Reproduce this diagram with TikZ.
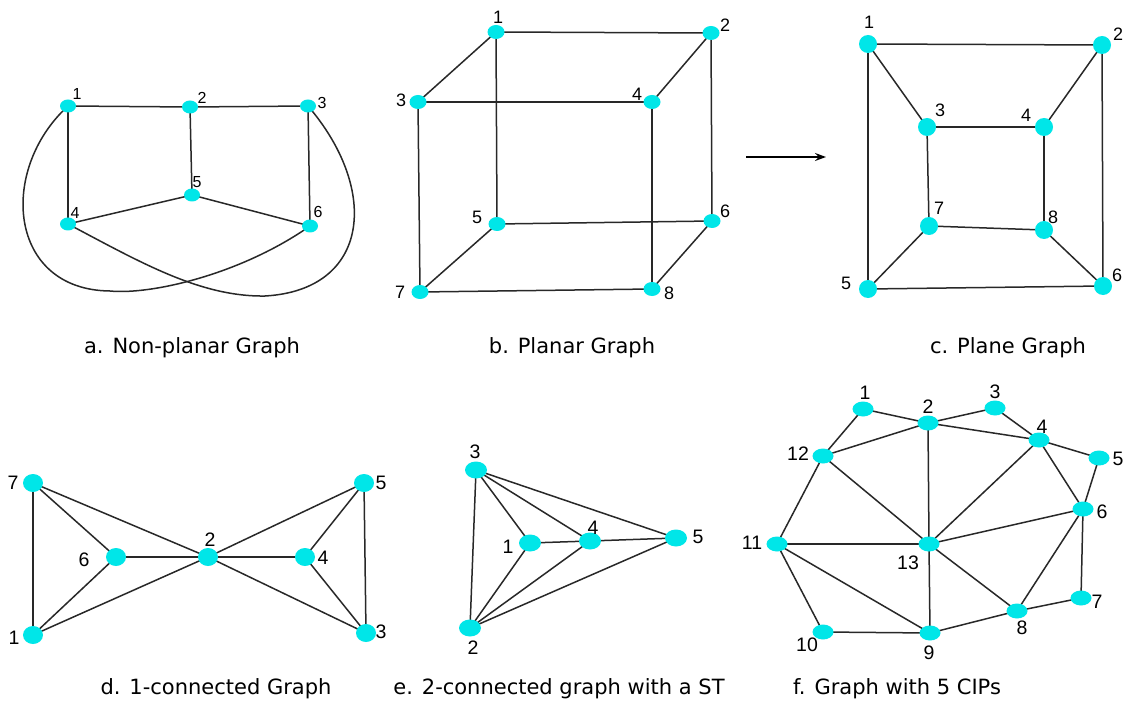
\documentclass[tikz,border=0pt]{standalone}
\usepackage{fontspec}
\setmainfont{Liberation Sans}
\newfontfamily\capfont{DejaVu Sans}
\usetikzlibrary{shapes.geometric,backgrounds,arrows.meta}
\definecolor{nodecyan}{RGB}{0,230,232}
\definecolor{edgegray}{RGB}{40,40,40}
\tikzset{
  vtx/.style={ellipse, fill=nodecyan, inner sep=0pt},
  va/.style={vtx, minimum width=16pt, minimum height=13pt},
  vb/.style={vtx, minimum width=17pt, minimum height=14pt},
  vc/.style={vtx, minimum width=18pt, minimum height=18pt},
  vd/.style={vtx, minimum width=20pt, minimum height=18pt},
  ve/.style={vtx, minimum width=22pt, minimum height=17pt},
  vf/.style={vtx, minimum width=21pt, minimum height=15pt},
  laba/.style={font=\fontsize{16}{16}\selectfont, inner sep=0pt},
  lab/.style={font=\fontsize{18}{18}\selectfont, inner sep=0pt},
  labf/.style={font=\fontsize{19.5}{19.5}\selectfont, inner sep=0pt},
  captxt/.style={font=\capfont\fontsize{21}{21}\selectfont, inner sep=0pt},
  edge/.style={draw=edgegray, line width=1.5pt},
}
\begin{document}
\begin{tikzpicture}[x=1pt,y=-1pt]
\begin{scope}[on background layer]
\fill[white] (0,0) rectangle (1126,703);
\end{scope}
\useasboundingbox (0,0) rectangle (1126,703);

% ---------- a. Non-planar graph ----------
\node[va] (a1) at (68,106) {};
\node[va] (a2) at (190,107) {};
\node[va] (a3) at (308,106) {};
\node[va] (a4) at (68,224) {};
\node[va] (a5) at (192,195) {};
\node[va] (a6) at (310,226) {};
\node[laba] (la1) at (77,94) {1};
\node[laba] (la2) at (202,98) {2};
\node[laba] (la3) at (322,103) {3};
\node[laba] (la4) at (75,213) {4};
\node[laba] (la5) at (197,182) {5};
\node[laba] (la6) at (318,212) {6};
\begin{scope}[on background layer]
\draw[edge] (a1.center) -- (a2.center) -- (a3.center);
\draw[edge] (a1.center) -- (a4.center);
\draw[edge] (a2.center) -- (a5.center);
\draw[edge] (a3.center) -- (a6.center);
\draw[edge] (a4.center) -- (a5.center) -- (a6.center);
\draw[edge] (a1.center) .. controls (-2,170) and (8,290) .. (110,291)
  .. controls (150,295) and (240,275) .. (a6.center);
\draw[edge] (a4.center) .. controls (140,262) and (200,297) .. (265,296)
  .. controls (370,290) and (380,190) .. (a3.center);
\end{scope}
\node[captxt] (capa) at (192,348) {a. Non-planar Graph};

% ---------- b. Planar graph ----------
\node[vb] (b1) at (496,32) {};
\node[vb] (b2) at (711,33) {};
\node[vb] (b3) at (418,102) {};
\node[vb] (b4) at (652,102) {};
\node[vb] (b5) at (497,224) {};
\node[vb] (b6) at (712,221) {};
\node[vb] (b7) at (420,292) {};
\node[vb] (b8) at (652,289) {};
\node[lab] (lb1) at (498,17) {1};
\node[lab] (lb2) at (725,25) {2};
\node[lab] (lb3) at (401,100) {3};
\node[lab] (lb4) at (637,94) {4};
\node[lab] (lb5) at (477,217) {5};
\node[lab] (lb6) at (725,211) {6};
\node[lab] (lb7) at (400,292) {7};
\node[lab] (lb8) at (669,293) {8};
\begin{scope}[on background layer]
\draw[edge] (b1.center) -- (b2.center);
\draw[edge] (b1.center) -- (b3.center);
\draw[edge] (b1.center) -- (b5.center);
\draw[edge] (b2.center) -- (b4.center);
\draw[edge] (b2.center) -- (b6.center);
\draw[edge] (b3.center) -- (b4.center);
\draw[edge] (b3.center) -- (b7.center);
\draw[edge] (b4.center) -- (b8.center);
\draw[edge] (b5.center) -- (b6.center);
\draw[edge] (b5.center) -- (b7.center);
\draw[edge] (b6.center) -- (b8.center);
\draw[edge] (b7.center) -- (b8.center);
\end{scope}
\node[captxt] (capb) at (572,348) {b. Planar Graph};

% ---------- arrow ----------
\coordinate (arrS) at (746,157);
\coordinate (arrE) at (826,157);
\draw[line width=1.5pt, -{Stealth[length=11pt,width=8pt,inset=4pt]}] (arrS) -- (arrE);

% ---------- c. Plane graph ----------
\node[vc] (c1) at (868,44) {};
\node[vc] (c2) at (1102,45) {};
\node[vc] (c3) at (927,127) {};
\node[vc] (c4) at (1044,127) {};
\node[vc] (c5) at (868,289) {};
\node[vc] (c6) at (1103,286) {};
\node[vc] (c7) at (929,226) {};
\node[vc] (c8) at (1044,230) {};
\node[lab] (lc1) at (869,22) {1};
\node[lab] (lc2) at (1118,34) {2};
\node[lab] (lc3) at (940,110) {3};
\node[lab] (lc4) at (1026,115) {4};
\node[lab] (lc5) at (846,283) {5};
\node[lab] (lc6) at (1117,275) {6};
\node[lab] (lc7) at (939,208) {7};
\node[lab] (lc8) at (1053,217) {8};
\begin{scope}[on background layer]
\draw[edge] (c1.center) -- (c2.center);
\draw[edge] (c1.center) -- (c3.center);
\draw[edge] (c1.center) -- (c5.center);
\draw[edge] (c2.center) -- (c4.center);
\draw[edge] (c2.center) -- (c6.center);
\draw[edge] (c3.center) -- (c4.center);
\draw[edge] (c3.center) -- (c7.center);
\draw[edge] (c4.center) -- (c8.center);
\draw[edge] (c5.center) -- (c6.center);
\draw[edge] (c5.center) -- (c7.center);
\draw[edge] (c7.center) -- (c8.center);
\draw[edge] (c8.center) -- (c6.center);
\end{scope}
\node[captxt] (capc) at (1008,348) {c. Plane Graph};

% ---------- d. 1-connected graph ----------
\node[vd] (d7) at (33,483) {};
\node[vd] (d1) at (33,635) {};
\node[vd] (d6) at (116,557) {};
\node[vd] (d2) at (208,557) {};
\node[vd] (d4) at (305,557) {};
\node[vd] (d5) at (364,483) {};
\node[vd] (d3) at (366,633) {};
\node[labf] (ld7) at (13,483) {7};
\node[labf] (ld1) at (14,638) {1};
\node[labf] (ld6) at (84,560) {6};
\node[labf] (ld2) at (210,540) {2};
\node[labf] (ld4) at (323,558) {4};
\node[labf] (ld5) at (381,483) {5};
\node[labf] (ld3) at (381,632) {3};
\begin{scope}[on background layer]
\draw[edge] (d7.center) -- (d1.center);
\draw[edge] (d7.center) -- (d6.center);
\draw[edge] (d7.center) -- (d2.center);
\draw[edge] (d6.center) -- (d1.center);
\draw[edge] (d6.center) -- (d2.center);
\draw[edge] (d1.center) -- (d2.center);
\draw[edge] (d2.center) -- (d4.center);
\draw[edge] (d2.center) -- (d5.center);
\draw[edge] (d2.center) -- (d3.center);
\draw[edge] (d5.center) -- (d4.center);
\draw[edge] (d5.center) -- (d3.center);
\draw[edge] (d4.center) -- (d3.center);
\end{scope}
\node[captxt] (capd) at (216,689) {d. 1-connected Graph};

% ---------- e. 2-connected graph ----------
\node[ve] (e3) at (476,470) {};
\node[ve] (e1) at (530,543) {};
\node[ve] (e4) at (590,541) {};
\node[ve] (e5) at (676,538) {};
\node[ve] (e2) at (470,628) {};
\node[labf] (le3) at (475,452) {3};
\node[labf] (le1) at (508,547) {1};
\node[labf] (le4) at (593,528) {4};
\node[labf] (le5) at (698,537) {5};
\node[labf] (le2) at (473,648) {2};
\begin{scope}[on background layer]
\draw[edge] (e3.center) -- (e2.center);
\draw[edge] (e3.center) -- (e1.center);
\draw[edge] (e3.center) -- (e4.center);
\draw[edge] (e3.center) -- (e5.center);
\draw[edge] (e1.center) -- (e4.center);
\draw[edge] (e4.center) -- (e5.center);
\draw[edge] (e1.center) -- (e2.center);
\draw[edge] (e4.center) -- (e2.center);
\draw[edge] (e5.center) -- (e2.center);
\end{scope}
\node[captxt] (cape) at (559,689) {e. 2-connected graph with a ST};

% ---------- f. Graph with 5 CIPs ----------
\node[vf] (f1) at (863,409) {};
\node[vf] (f2) at (928,423) {};
\node[vf] (f3) at (995,408) {};
\node[vf] (f4) at (1039,440) {};
\node[vf] (f5) at (1099,458) {};
\node[vf] (f6) at (1083,509) {};
\node[vf] (f7) at (1081,598) {};
\node[vf] (f8) at (1017,611) {};
\node[vf] (f9) at (930,633) {};
\node[vf] (f10) at (823,632) {};
\node[vf] (f11) at (777,544) {};
\node[vf] (f12) at (823,456) {};
\node[vf] (f13) at (929,544) {};
\node[labf] (lf1) at (865,393) {1};
\node[labf] (lf2) at (928,407) {2};
\node[labf] (lf3) at (995,392) {3};
\node[labf] (lf4) at (1042,427) {4};
\node[labf] (lf5) at (1118,459) {5};
\node[labf] (lf6) at (1102,512) {6};
\node[labf] (lf7) at (1097,602) {7};
\node[labf] (lf8) at (1022,628) {8};
\node[labf] (lf9) at (929,653) {9};
\node[labf] (lf10) at (807,645) {10};
\node[labf] (lf11) at (752,543) {11};
\node[labf] (lf12) at (798,454) {12};
\node[labf] (lf13) at (908,563) {13};
\begin{scope}[on background layer]
\draw[edge] (f1.center) -- (f2.center);
\draw[edge] (f1.center) -- (f12.center);
\draw[edge] (f2.center) -- (f3.center);
\draw[edge] (f2.center) -- (f12.center);
\draw[edge] (f2.center) -- (f4.center);
\draw[edge] (f2.center) -- (f13.center);
\draw[edge] (f3.center) -- (f4.center);
\draw[edge] (f4.center) -- (f5.center);
\draw[edge] (f4.center) -- (f6.center);
\draw[edge] (f4.center) -- (f13.center);
\draw[edge] (f5.center) -- (f6.center);
\draw[edge] (f6.center) -- (f13.center);
\draw[edge] (f6.center) -- (f7.center);
\draw[edge] (f6.center) -- (f8.center);
\draw[edge] (f7.center) -- (f8.center);
\draw[edge] (f8.center) -- (f9.center);
\draw[edge] (f8.center) -- (f13.center);
\draw[edge] (f9.center) -- (f13.center);
\draw[edge] (f9.center) -- (f10.center);
\draw[edge] (f9.center) -- (f11.center);
\draw[edge] (f10.center) -- (f11.center);
\draw[edge] (f11.center) -- (f13.center);
\draw[edge] (f11.center) -- (f12.center);
\draw[edge] (f12.center) -- (f13.center);
\end{scope}
\node[captxt] (capf) at (897,689) {f. Graph with 5 CIPs};
\end{tikzpicture}
\end{document}
